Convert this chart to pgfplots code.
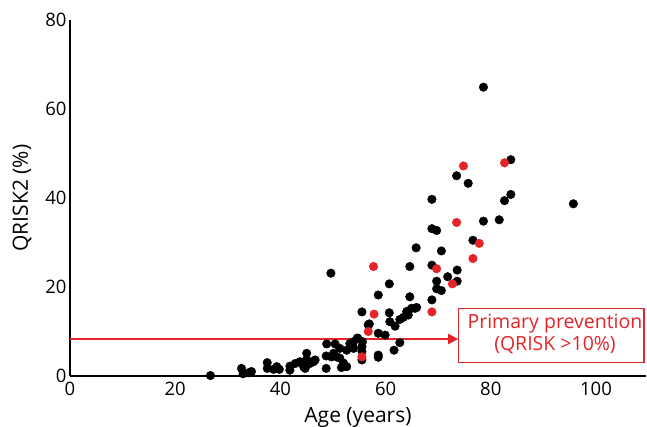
\documentclass[border=0pt]{standalone}
\usepackage{pgfplots}
\pgfplotsset{compat=1.18}
\usetikzlibrary{arrows.meta}
\usepackage{fontspec}
\setmainfont{Open Sans}
\definecolor{qred}{RGB}{228,36,40}

\begin{document}
\begin{tikzpicture}
\begin{axis}[
  name=ax,
  width=576bp, height=356bp, scale only axis,
  xmin=0, xmax=109.5, ymin=0, ymax=80,
  axis lines=left,
  axis line style={-, line width=1.6bp, black},
  xtick={0,20,...,100}, ytick={0,20,...,80},
  major tick length=0pt,
  tick label style={font=\fontsize{18.5bp}{20bp}\selectfont},
  xticklabel style={yshift=-3bp},
  /pgf/number format/assume math mode=true,
  xlabel={Age (years)}, ylabel={QRISK2 (\%)},
  label style={font=\fontsize{21bp}{24bp}\selectfont},
  xlabel style={yshift=-5bp},
  ylabel style={yshift=7bp},
  clip=false,
]
% black = other patients
\addplot[only marks, mark=*, mark size=4.3bp, black] coordinates {
(78.6,64.9) (83.8,48.6) (73.5,45.0) (75.7,43.3) (68.8,39.7) (83.8,40.8)
(82.6,39.4) (95.7,38.7) (78.6,34.8) (81.6,35.1) (68.8,33.1) (69.7,32.7)
(76.6,30.5) (65.8,28.8) (70.6,28.1) (64.6,24.6) (68.8,24.9) (73.6,23.8)
(71.8,22.3) (73.6,21.3) (69.7,21.3) (69.7,19.6) (70.6,19.2) (64.6,17.8)
(68.8,17.1) (49.6,23.1) (60.7,20.7) (58.6,18.2)
(55.5,14.4) (60.7,14.2) (64.9,15.2) (65.6,15.2) (64.0,14.5) (63.4,13.2)
(62.7,12.7) (64.3,13.7) (60.8,12.2) (61.8,11.2) (56.7,11.5) (58.6,9.6)
(59.9,9.2) (54.6,8.5) (53.9,7.7) (53.2,7.3) (62.7,7.5) (65.9,15.4)
(48.8,7.2) (50.4,7.2) (51.3,6.2) (52.6,5.8) (53.9,6.2) (55.5,6.6)
(55.5,5.5) (50.1,5.1) (51.3,4.0) (49.7,4.3) (52.0,2.9) (52.6,2.1)
(55.5,3.6) (58.6,4.7) (58.6,4.2) (61.6,5.8) (48.7,1.7) (45.0,5.1)
(44.9,3.6) (45.6,2.8) (46.3,3.2) (44.4,2.1) (48.7,4.5) (50.7,4.3)
(51.6,1.9) (55.6,7.7) (54.7,8.5) (56.9,11.7) (26.7,0.1) (32.6,1.7)
(32.9,0.5) (33.9,0.7) (34.5,1.0) (37.5,3.0) (37.5,1.7) (38.7,1.5)
(39.3,2.1) (39.8,1.5) (41.8,2.2) (42.8,2.8) (43.7,3.2) (44.9,2.5)
(45.9,3.2) (46.6,3.6) (44.7,1.7) (41.8,1.3)
};
% red = highlighted patients
\addplot[only marks, mark=*, mark size=4.3bp, qred] coordinates {
(74.8,47.2) (82.6,47.9) (73.5,34.5) (77.8,29.8) (76.6,26.4) (69.7,24.1)
(72.7,20.7) (57.7,24.6) (68.8,14.4) (57.8,13.9) (56.7,10.0) (55.5,4.3)
};
% threshold arrow
\addplot[qred, line width=1.8bp, -{Triangle[length=10bp,width=10bp]}]
  coordinates {(0,8.3) (73.8,8.3)};
\draw[qred, line width=1.3bp] (axis cs:73.8,3.1) rectangle (axis cs:109.1,15.1);
\node[qred, align=center, font=\fontsize{19.5bp}{22bp}\selectfont]
  at (axis cs:92.2,9.4) {Primary prevention\\(QRISK >10\%)};
\end{axis}
\pgfresetboundingbox
\path[use as bounding box] ([shift={(-70bp,-51bp)}]ax.south west)
  rectangle ([shift={(1bp,20bp)}]ax.north east);
\end{tikzpicture}
\end{document}
